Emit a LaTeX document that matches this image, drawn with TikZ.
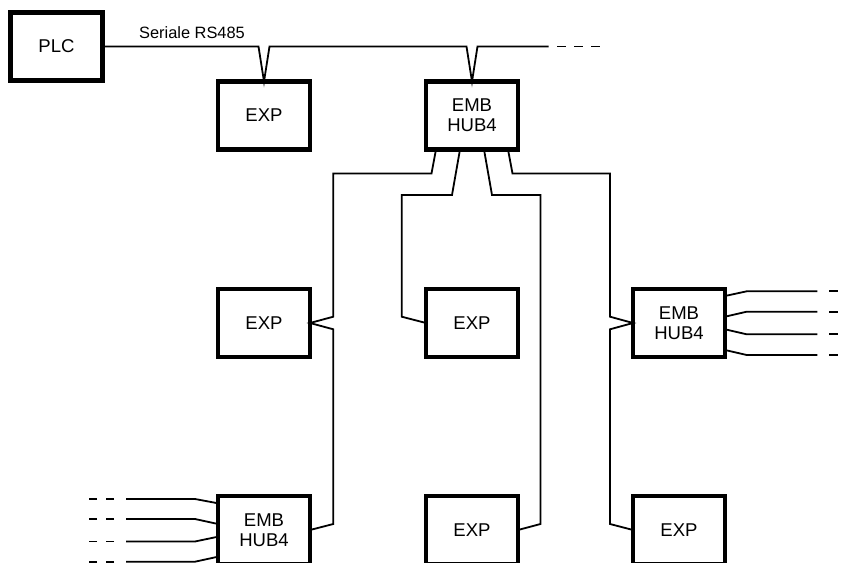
\documentclass[tikz,border=0pt]{standalone}
\usepackage{fontspec}
\setmainfont{Liberation Sans}
\usetikzlibrary{calc}
\begin{document}
\begin{tikzpicture}[x=0.75pt,y=-0.75pt,
  box/.style={draw,line width=3.4pt,minimum width=69pt,minimum height=51pt,outer sep=0pt,inner sep=0pt,align=center,font=\fontsize{13.9}{15}\selectfont},
  wire/.style={line width=1.35pt},
  dsh/.style={line width=1.35pt,dash pattern=on 6.375pt off 6.375pt}]
\useasboundingbox (0,0) rectangle (846,563);
\clip (0,0) rectangle (846,563);
% boxes
\node[box] (plc) at (56.5,46.5) {PLC};
\node[box] (exp1) at (264,115.5) {EXP};
\node[box] (hub1) at (472,115.5) {EMB\\HUB4};
\node[box] (exp2) at (264,323) {EXP};
\node[box] (exp3) at (472,323) {EXP};
\node[box] (hub2) at (679,323) {EMB\\HUB4};
\node[box] (hub3) at (264,530) {EMB\\HUB4};
\node[box] (exp4) at (472,530) {EXP};
\node[box] (exp5) at (679,530) {EXP};
% serial bus
\node[font=\fontsize{12.3}{14}\selectfont,anchor=base,inner sep=0pt] (lbl) at (192,38.3) {Seriale RS485};
\draw[wire] (plc.east) -- ($(exp1.north)+(-5.5,-35)$) -- (exp1.north) -- ($(exp1.north)+(5.5,-35)$)
  -- ($(hub1.north)+(-5.5,-35)$) -- (hub1.north) -- ($(hub1.north)+(5.5,-35)$) -- ++(71,0) coordinate (busend);
\draw[dsh] ($(busend)+(8.5,0)$) -- ++(42.5,0);
% hub1 outputs
\draw[wire] ($(hub1.south)+(-36,0)$) -- ++(-4.5,24) -| ($(exp2.east)+(23.3,-6.3)$) -- (exp2.east)
  -- ($(exp2.east)+(23.3,6.3)$) -- ($(hub3.east)+(23.3,-6)$) -- (hub3.east);
\draw[wire] ($(hub1.south)+(-12,0)$) -- ++(-8,45.5) -| ($(exp3.west)+(-24.3,-6.3)$) -- (exp3.west);
\draw[wire] ($(hub1.south)+(12,0)$) -- ++(8,45.5) -| ($(exp4.east)+(22.5,-6)$) -- (exp4.east);
\draw[wire] ($(hub1.south)+(36,0)$) -- ++(4.5,24) -| ($(hub2.west)+(-23,-6.3)$) -- (hub2.west)
  -- ($(hub2.west)+(-23,6.3)$) -- ($(exp5.west)+(-23,-6)$) -- (exp5.west);
% hub2 outputs
\foreach \dy/\s in {-27/-4.7,-6.3/-5,6.3/5,27/5}{
  \draw[wire] ($(hub2.east)+(0,\dy)$) -- ++(21.7,\s) -- ++(70.6,0) coordinate (e);
  \draw[dsh] ($(e)+(11.7,0)$) -- ++(34,0);
}
% hub3 outputs
\foreach \dy/\s in {-26.7/-4.3,-6/-5,6.7/4.8,26.7/5}{
  \draw[wire] ($(hub3.west)+(0,\dy)$) -- ++(-23,\s) -- ++(-69,0) coordinate (e);
  \draw[dsh] ($(e)+(-12,0)$) -- ++(-25.5,0);
}
\end{tikzpicture}
\end{document}
